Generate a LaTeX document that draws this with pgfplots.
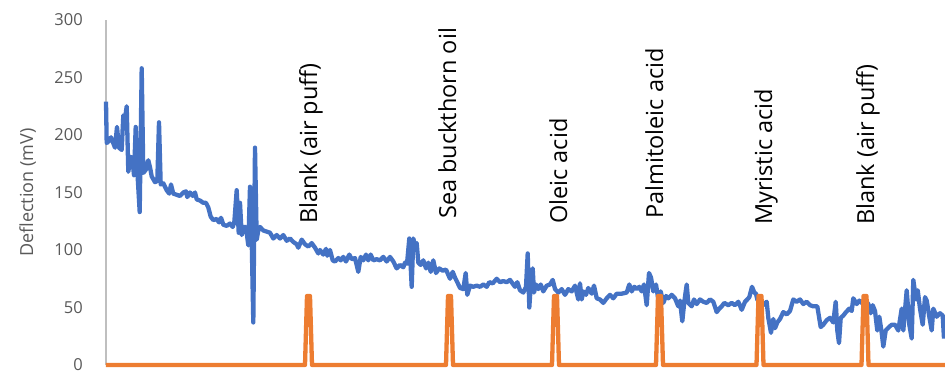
\documentclass[border=0pt]{standalone}
\usepackage{pgfplots}
\pgfplotsset{compat=1.18}
\usepackage{fontspec}
\setmainfont{Open Sans}
\definecolor{xlblue}{HTML}{4472C4}
\definecolor{xlorange}{HTML}{ED7D31}
\definecolor{ticktext}{HTML}{595959}
\definecolor{axisgray}{HTML}{BFBFBF}

% deflection trace (sample position, mV)
\pgfplotstableread{
t v
106 229
106.7 193
109 195
111 198
115 189
117 207
119 189
121.7 187
123.3 217
125 214
126.7 225
128.3 168
130.7 181
132.3 180
134 165
135.7 207
137.3 169
139.7 133
141.7 258
143.3 167
146 170
148.3 178
150 172
151.7 164
155 159
157.3 160
159 211
160.7 157
163.3 158
166.7 152
169.3 149
171 157
173.3 149
176.7 148
180 147
183.3 150
186 151
187.3 146
190 150
192.7 147
195 150
196.7 144
200 143
203.3 141
206 141
208.3 137
210.7 129
213.3 126
216.7 127
219 124
221 128
223.3 122
226.7 121
230 123
232.7 120
234.3 124
236.7 152
238.7 115
240 141
241.7 113
244 120
245.7 120
246.7 115
248.3 104
250 155
251.7 109
253.3 37
255 189
256.7 109
258.3 117
260 120
263.3 117
266.7 116
270 115
273.3 110
276.7 113
280 110
283.3 113
286.7 108
290 110
293.3 107
296.7 105
298.3 102
301.7 109
305 105
308.3 103
311.7 106
315 102
318.3 97
320 100
323.3 96
326 101
327.3 95
330 100
332.7 91
335 90
338.3 93
340.7 91
343.3 94
346 90
349.3 96
351.7 92
355 93
358.3 81
360.7 94
363.3 91
366 96
368.3 91
370.7 96
373.3 91
376.7 92
380 91
383.3 94
386.7 90
390 94
393.3 90
396.7 84
400 87
403.3 85
405 89
407 88
409.3 110
411.7 68
413.3 110
415 104
416.7 106
418.3 89
420.7 87
423.3 91
426 84
428.3 89
430.7 81
433.3 91
436 80
439.3 84
442.7 82
446 83
450 75
452.7 81
455 76
457.3 72
460 67
463.3 66
465.7 80
467.3 61
470 69
473.3 68
476.7 69
480 68
483.3 70
486.7 68
489.3 72
492.7 71
496.7 75
500 72
503.3 73
506.7 72
510 74
513.3 70
515 68
517.3 72
520 65
523.3 63
526 68
527.7 97
529.3 50
531 72
532.7 84
534 63
536 70
538.3 66
540.7 70
543.3 64
546.7 69
550 70
552.7 74
555 66
558.3 63
561.7 66
565 61
568.3 66
571.7 64
575 69
578.3 57
580 71
581.7 57
583.3 64
586 61
588.3 67
591.7 62
594 69
596.7 58
600 57
603.3 54
606.7 58
610 61
613.3 58
616.7 62
621.7 62
626.7 63
629.3 70
631.7 64
634.3 68
636.7 66
639.3 68
641.7 64
644 70
646.7 52
649 80
651 76
653.3 64
656 70
658.3 57
660.7 64
663.3 54
666 60
668.3 58
671.7 61
675 58
678.3 51
680 56
682.3 38
684.3 55
686.7 70
688.3 54
691.7 51
694 57
696.7 53
700 57
703.3 55
706.7 54
710 57
713.3 55
716.7 46
719.3 49
721.7 51
724.3 54
728.3 52
731.7 54
735 52
738.3 55
741.7 48
745 55
747.3 57
749.3 59
752 68
754.3 63
756 62
757.3 57
760 54
763.3 52
766.7 55
768.3 41
771 28
773.3 40
775 32
777.3 37
780 40
783.3 46
786.7 44
790 47
793.3 57
796.7 55
800 57
803.3 53
806.7 55
810 52
813.3 51
817.3 51
820.7 33
823.3 35
826.7 39
830 41
833.3 37
835.7 55
837.3 30
839 19
840.7 41
843.3 43
846 46
849.3 49
851.7 47
853.3 58
856.7 53
859.3 56
861.7 54
865 57
868.3 53
870.7 45
872.7 52
875 47
877.3 30
879.3 42
881.7 28
883.3 16
885.7 30
889 33
891.7 35
895 35
898.3 30
901.7 49
903.3 30
906.7 65
909.3 35
911.7 23
913.3 74
916 57
917.7 65
920 49
922.7 35
925 59
926.7 56
929.3 42
931.7 30
933.3 49
936.7 42
940 45
942.7 43
944 23
}\deflection

% stimulus marker trace (sample position, mV)
\pgfplotstableread{
t v
106 0
305 0
307 60
310 60
312 0
446 0
448 60
451 60
453 0
552 0
554 60
557 60
559 0
656 0
658 60
661 60
663 0
756.5 0
758.5 60
761.5 60
763.5 0
861.5 0
863.5 60
866.5 60
868.5 0
945 0
}\stimulus

\begin{document}
\begin{tikzpicture}
\begin{axis}[
  scale only axis,
  width=839pt, height=345pt,
  xmin=106, xmax=945,
  ymin=0, ymax=300,
  ytick={0,50,...,300},
  xtick=\empty,
  axis x line=none,
  axis y line*=left,
  y axis line style={draw=axisgray, line width=1.2pt, -},
  major tick length=0pt,
  ytick style={draw=none},
  yticklabel style={font=\fontsize{16.5}{18}\selectfont, text=ticktext, inner sep=0pt, xshift=-23pt},
  /pgf/number format/assume math mode=true,
  ylabel={Deflection (mV)},
  every axis y label/.style={at={(axis description cs:-0.0935,0.5)}, rotate=90, anchor=center,
    font=\fontsize{18}{20}\selectfont, text=ticktext},
  clip=false,
]
\addplot[xlblue, line width=4.3pt, line join=round] table[x=t, y=v] {\deflection};
\addplot[xlorange, line width=4.3pt, line join=round] table[x=t, y=v] {\stimulus};

\begin{scope}[every node/.style={rotate=90, anchor=base west, inner sep=0pt, font=\fontsize{23.5}{26}\selectfont, text=black}]
\node at (axis cs:317,122.6) {Blank (air puff)};
\node at (axis cs:456,127) {Sea buckthorn oil};
\node at (axis cs:567,122.6) {Oleic acid};
\node at (axis cs:663,127) {Palmitoleic acid};
\node at (axis cs:772,121.7) {Myristic acid};
\node at (axis cs:874,121.7) {Blank (air puff)};
\end{scope}

\coordinate (bl) at (rel axis cs:0,0);
\coordinate (tr) at (rel axis cs:1,1);
\end{axis}
\pgfresetboundingbox
\path[use as bounding box] ([shift={(-106pt,-6pt)}]bl) rectangle ([shift={(0pt,20pt)}]tr);
\end{tikzpicture}
\end{document}
